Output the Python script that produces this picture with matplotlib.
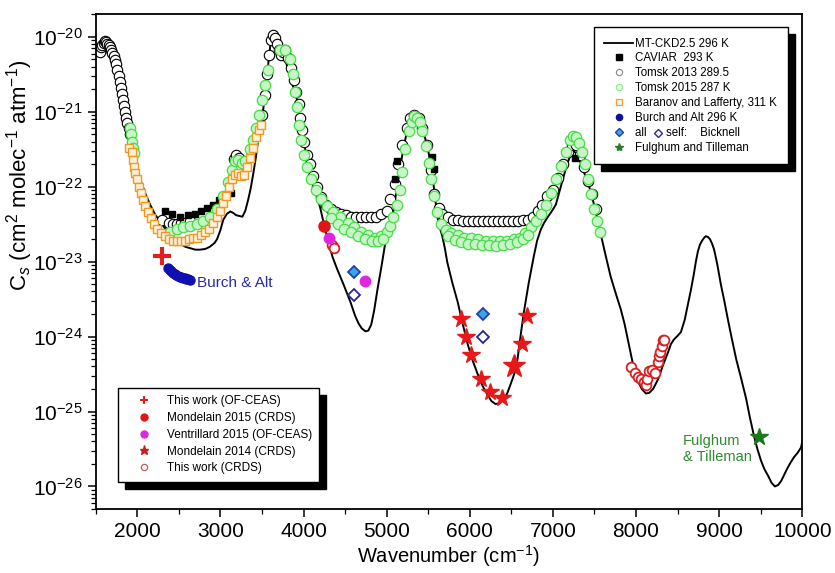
import numpy as np
import matplotlib
matplotlib.use('Agg')
import matplotlib.pyplot as plt
from matplotlib.lines import Line2D
from matplotlib.patches import Rectangle
from matplotlib.transforms import IdentityTransform
from matplotlib.ticker import LogLocator, NullFormatter, MultipleLocator

plt.rcParams['font.family'] = ['Liberation Sans', 'DejaVu Sans']
plt.rcParams['mathtext.fontset'] = 'custom'
plt.rcParams['mathtext.rm'] = 'Liberation Sans'
plt.rcParams['mathtext.it'] = 'Liberation Sans:italic'
plt.rcParams['mathtext.bf'] = 'Liberation Sans:bold'

# all series: (wavenumber cm-1, log10 of Cs)
mtckd_curve = [
    (1500, -20.22), (1550, -20.13), (1600, -20.10), (1650, -20.12), (1700, -20.22),
    (1750, -20.40), (1805, -20.70), (1860, -21.05), (1915, -21.37), (1970, -21.66),
    (2035, -21.90), (2100, -22.10), (2155, -22.24), (2220, -22.38), (2275, -22.46),
    (2335, -22.56), (2395, -22.64), (2455, -22.71), (2515, -22.76), (2575, -22.80),
    (2635, -22.82), (2700, -22.84), (2755, -22.84), (2820, -22.83), (2875, -22.80),
    (2930, -22.75), (2960, -22.70), (3000, -22.58), (3035, -22.44), (3080, -22.36),
    (3120, -22.33), (3155, -22.35), (3190, -22.38), (3265, -22.40), (3300, -22.32),
    (3335, -22.17), (3365, -22.02), (3395, -21.83), (3425, -21.62), (3455, -21.37),
    (3485, -21.16), (3515, -20.97), (3545, -20.70), (3575, -20.37), (3600, -20.12),
    (3615, -20.01), (3635, -19.97), (3660, -20.00), (3685, -20.10), (3730, -20.20),
    (3780, -20.30), (3830, -20.50), (3880, -20.68), (3925, -20.85), (3960, -21.10),
    (4000, -21.37), (4040, -21.62), (4080, -21.81), (4145, -22.06), (4205, -22.30),
    (4250, -22.52), (4300, -22.74), (4350, -22.94), (4405, -23.10), (4480, -23.30),
    (4565, -23.54), (4620, -23.72), (4660, -23.82), (4700, -23.89), (4745, -23.93),
    (4780, -23.92), (4815, -23.84), (4850, -23.65), (4890, -23.37), (4940, -23.05),
    (4985, -22.74), (5030, -22.55), (5070, -22.40), (5105, -22.15), (5140, -21.90),
    (5170, -21.70), (5200, -21.50), (5230, -21.34), (5260, -21.21), (5290, -21.12),
    (5325, -21.06), (5355, -21.05), (5385, -21.08), (5410, -21.15), (5430, -21.24),
    (5460, -21.34), (5490, -21.46), (5520, -21.64), (5550, -21.84), (5580, -22.12),
    (5610, -22.40), (5640, -22.55), (5670, -22.66), (5700, -22.82), (5730, -23.01),
    (5790, -23.28), (5855, -23.54), (5915, -23.83), (5975, -24.10), (6035, -24.32),
    (6095, -24.50), (6155, -24.66), (6215, -24.78), (6260, -24.86), (6310, -24.90),
    (6360, -24.89), (6405, -24.84), (6450, -24.76), (6490, -24.64), (6535, -24.50),
    (6575, -24.30), (6610, -24.00), (6650, -23.68), (6710, -23.28), (6770, -22.93),
    (6810, -22.72), (6855, -22.57), (6895, -22.48), (6935, -22.41), (6985, -22.33),
    (7035, -22.24), (7075, -22.08), (7120, -21.90), (7155, -21.76), (7190, -21.64),
    (7220, -21.56), (7250, -21.53), (7280, -21.55), (7310, -21.61), (7345, -21.72),
    (7385, -21.84), (7420, -21.95), (7455, -22.06), (7515, -22.33), (7575, -22.63),
    (7635, -22.92), (7695, -23.20), (7755, -23.42), (7815, -23.63), (7860, -23.82),
    (7900, -24.03), (7960, -24.35), (8025, -24.60), (8070, -24.70), (8120, -24.76),
    (8160, -24.75), (8205, -24.70), (8265, -24.57), (8325, -24.38), (8385, -24.21),
    (8420, -24.10), (8455, -24.04), (8500, -23.99), (8540, -23.94), (8585, -23.78),
    (8625, -23.57), (8660, -23.38), (8695, -23.17), (8720, -23.00), (8745, -22.86),
    (8770, -22.77), (8795, -22.72), (8820, -22.68), (8840, -22.66), (8865, -22.67),
    (8890, -22.70), (8915, -22.76), (8940, -22.84), (8980, -23.05), (9020, -23.30),
    (9065, -23.54), (9105, -23.77), (9155, -24.04), (9205, -24.30), (9265, -24.56),
    (9325, -24.83), (9370, -25.08), (9420, -25.33), (9460, -25.50), (9505, -25.66),
    (9545, -25.77), (9590, -25.86), (9630, -25.95), (9670, -26.00), (9710, -25.98),
    (9745, -25.93), (9780, -25.85), (9815, -25.77), (9860, -25.68), (9900, -25.61),
    (9945, -25.55), (9985, -25.48), (10000, -25.40),
]

tomsk2013 = [
    (1550, -20.20), (1565, -20.14), (1580, -20.11), (1595, -20.08), (1610, -20.06),
    (1625, -20.07), (1640, -20.09), (1655, -20.11), (1670, -20.14), (1685, -20.18),
    (1700, -20.22), (1715, -20.26), (1730, -20.31), (1745, -20.36), (1760, -20.44),
    (1775, -20.52), (1790, -20.60), (1805, -20.68), (1815, -20.76), (1825, -20.84),
    (1840, -20.92), (1855, -21.00), (1870, -21.08), (1880, -21.15), (1895, -21.22),
    (1910, -21.29),
    (2300, -22.45), (2380, -22.48), (2430, -22.50), (2480, -22.50), (2530, -22.49),
    (2580, -22.48), (2640, -22.46),
    (3160, -21.63), (3190, -21.57), (3225, -21.62),
    (3505, -21.04), (3540, -20.77), (3565, -20.50), (3590, -20.24), (3610, -20.04),
    (3635, -19.98), (3660, -20.01), (3685, -20.09), (3710, -20.17), (3735, -20.24),
    (3755, -20.20), (3780, -20.17), (3815, -20.28), (3855, -20.41), (3890, -20.57),
    (3915, -20.73), (3940, -20.90), (3960, -21.08), (3985, -21.24), (4010, -21.40),
    (4045, -21.57), (4080, -21.70), (4120, -21.86), (4165, -22.01), (4215, -22.14),
    (4275, -22.24), (4335, -22.30), (4395, -22.34), (4455, -22.37), (4515, -22.38),
    (4575, -22.40), (4635, -22.41), (4695, -22.41), (4755, -22.41), (4815, -22.41),
    (4875, -22.40), (4935, -22.37), (5000, -22.32), (5045, -22.17), (5095, -21.97),
    (5140, -21.70), (5190, -21.44), (5240, -21.21), (5285, -21.08), (5335, -21.04),
    (5385, -21.08), (5430, -21.21), (5480, -21.44), (5530, -21.77), (5575, -22.10),
    (5625, -22.28), (5670, -22.36), (5735, -22.41), (5795, -22.44), (5855, -22.45),
    (5915, -22.46), (5975, -22.46), (6035, -22.46), (6095, -22.46), (6155, -22.46),
    (6215, -22.46), (6275, -22.46), (6335, -22.46), (6395, -22.46), (6455, -22.46),
    (6515, -22.46), (6575, -22.46), (6635, -22.45), (6695, -22.44), (6755, -22.40),
    (6815, -22.33), (6875, -22.24), (6935, -22.13), (7000, -22.04), (7060, -21.88),
    (7120, -21.70), (7180, -21.53), (7225, -21.44), (7275, -21.44), (7325, -21.57),
    (7370, -21.74), (7420, -21.93), (7470, -22.10), (7515, -22.30),
]

tomsk2015 = [
    (1910, -21.21), (1925, -21.30), (1937, -21.40), (1950, -21.48), (1962, -21.55),
    (2395, -22.60), (2480, -22.57), (2550, -22.54), (2635, -22.53), (2720, -22.50),
    (2795, -22.46), (2875, -22.40), (2960, -22.30), (3035, -22.13), (3095, -21.94),
    (3140, -21.77), (3180, -21.66), (3215, -21.64), (3265, -21.68), (3300, -21.66),
    (3360, -21.50), (3395, -21.37), (3430, -21.21), (3470, -21.04), (3505, -20.84),
    (3540, -20.64), (3575, -20.44),
    (3720, -20.17), (3780, -20.17), (3840, -20.30), (3875, -20.50), (3900, -20.73),
    (3925, -20.94), (3950, -21.17), (3975, -21.37), (4010, -21.57), (4045, -21.74),
    (4095, -21.90), (4155, -22.05), (4215, -22.17), (4285, -22.26), (4360, -22.34),
    (4445, -22.41), (4530, -22.48), (4610, -22.54), (4695, -22.60), (4780, -22.64),
    (4865, -22.68), (4935, -22.66), (5000, -22.61), (5045, -22.52), (5080, -22.40),
    (5120, -22.24), (5155, -22.04), (5190, -21.80), (5225, -21.50), (5265, -21.26),
    (5300, -21.13), (5335, -21.06), (5370, -21.08), (5405, -21.14), (5430, -21.26),
    (5470, -21.46), (5505, -21.68), (5530, -21.90), (5565, -22.13), (5610, -22.34),
    (5650, -22.50), (5710, -22.58), (5780, -22.62), (5855, -22.65), (5935, -22.68),
    (6020, -22.69), (6105, -22.70), (6190, -22.72), (6275, -22.73), (6360, -22.73),
    (6445, -22.72), (6530, -22.70), (6600, -22.68), (6670, -22.62), (6735, -22.54),
    (6795, -22.46), (6855, -22.37), (6915, -22.24), (6975, -22.08), (7035, -21.90),
    (7095, -21.72), (7155, -21.53), (7200, -21.38), (7240, -21.32), (7275, -21.34),
    (7310, -21.41), (7345, -21.53), (7385, -21.70), (7420, -21.90), (7455, -22.10),
    (7490, -22.30), (7530, -22.46), (7565, -22.60),
    (4330, -22.42), (4410, -22.50), (4490, -22.56), (4570, -22.61), (4650, -22.66),
    (4735, -22.70), (4820, -22.72), (4900, -22.73), (4960, -22.70), (5740, -22.66),
    (5820, -22.71), (5900, -22.74), (5980, -22.76), (6060, -22.77), (6145, -22.78),
    (6230, -22.78), (6320, -22.79), (6400, -22.78), (6490, -22.76), (6570, -22.74),
    (6640, -22.70), (6700, -22.64),
]

caviar = [
    (2335, -22.33), (2420, -22.37), (2515, -22.40), (2610, -22.38), (2695, -22.36),
    (2770, -22.33), (2840, -22.29), (2915, -22.24), (2985, -22.18), (3060, -22.13),
    (3130, -22.08), (5095, -21.90), (5130, -21.66), (5550, -21.60), (5575, -21.76),
    (7265, -21.61),
]

baranov = [
    (1900, -21.48), (1937, -21.54), (1949, -21.64), (1961, -21.73), (1973, -21.82),
    (1998, -21.90), (2022, -22.00), (2046, -22.09), (2070, -22.18), (2094, -22.26),
    (2130, -22.34), (2166, -22.42), (2202, -22.50), (2239, -22.57), (2287, -22.62),
    (2335, -22.66), (2383, -22.70), (2431, -22.72), (2480, -22.73), (2528, -22.73),
    (2576, -22.72), (2624, -22.70), (2672, -22.69), (2720, -22.68), (2769, -22.65),
    (2817, -22.61), (2865, -22.56), (2913, -22.49), (2961, -22.41), (2998, -22.32),
    (3034, -22.22), (3070, -22.12), (3106, -22.01), (3142, -21.90), (3178, -21.84),
    (3214, -21.82), (3251, -21.86), (3287, -21.84), (3323, -21.74), (3359, -21.61),
    (3395, -21.48), (3431, -21.34), (3468, -21.24), (3492, -21.17),
]

burch_alt = [
    (2370, -23.08), (2390, -23.11), (2410, -23.13), (2430, -23.15), (2450, -23.16),
    (2470, -23.18), (2490, -23.19), (2510, -23.20), (2530, -23.21), (2550, -23.22),
    (2570, -23.22), (2590, -23.23), (2610, -23.23), (2630, -23.24),
]

bicknell_all = [(4612, -23.14), (6154, -23.70)]
bicknell_self = [(4612, -23.45), (6154, -24.01)]
fulghum = [(9480, -25.34)]

ofceas_this_work = [(2295, -22.93)]
mondelain2015 = [(4250, -22.53)]
ventrillard2015 = [(4312, -22.68), (4745, -23.26)]
mondelain2014 = [
    (5900, -23.77), (5960, -24.01), (6020, -24.25), (6130, -24.57), (6240, -24.74),
    (6385, -24.82), (6625, -24.10), (6685, -23.72),
]
mondelain2014_big = [(6530, -24.39)]
crds_this_work = [
    (4345, -22.78), (4370, -22.82),
    (7937, -24.40), (7985, -24.48), (8021, -24.54), (8057, -24.57), (8093, -24.61),
    (8118, -24.65), (8130, -24.56), (8154, -24.46), (8190, -24.44), (8226, -24.48),
    (8262, -24.34), (8274, -24.26), (8286, -24.20), (8310, -24.13), (8322, -24.05),
    (8335, -24.04),
]


def xy(series):
    arr = np.array(series, dtype=float)
    return arr[:, 0], 10.0 ** arr[:, 1]


fig = plt.figure(figsize=(8.35, 5.73), dpi=100)
ax = fig.add_axes([0.1146, 0.1117, 0.8462, 0.8633])
ax.set_yscale('log')

x, y = xy(mtckd_curve)
ax.plot(x, y, color='black', lw=1.4, zorder=1)

x, y = xy(tomsk2013)
ax.plot(x, y, ls='', marker='o', ms=7.5, mfc='white', mec='black', mew=0.8, zorder=2)

x, y = xy(caviar)
ax.plot(x, y, ls='', marker='s', ms=5, color='black', zorder=3)

x, y = xy(tomsk2015)
ax.plot(x, y, ls='', marker='o', ms=7.5, mfc='#c8f5c8', mec='#45dd45', mew=0.9, zorder=4)

x, y = xy(baranov)
ax.plot(x, y, ls='', marker='s', ms=6, mfc='#fff1dc', mec='#f09a20', mew=1.0, zorder=5)

x, y = xy(burch_alt)
ax.plot(x, y, ls='', marker='o', ms=6.5, color='#1010b0', zorder=6)

x, y = xy(ofceas_this_work)
ax.plot(x, y, ls='', marker='+', ms=13, mew=3, color='#e02020', zorder=6)

x, y = xy(mondelain2015)
ax.plot(x, y, ls='', marker='o', ms=8, color='#e01515', zorder=7)

x, y = xy(crds_this_work)
ax.plot(x, y, ls='', marker='o', ms=7, mfc='white', mec='#d82020', mew=1.3, zorder=6)

x, y = xy(ventrillard2015)
ax.plot(x, y, ls='', marker='o', ms=7.5, color='#e025e0', zorder=7)

x, y = xy(bicknell_all)
ax.plot(x, y, ls='', marker='D', ms=6.5, mfc='#39a6e6', mec='#1f3fb4', mew=1.3, zorder=7)

x, y = xy(bicknell_self)
ax.plot(x, y, ls='', marker='D', ms=6.5, mfc='white', mec='#25259a', mew=1.3, zorder=7)

x, y = xy(mondelain2014)
ax.plot(x, y, ls='', marker='*', ms=13, color='#e81818', zorder=7)

x, y = xy(mondelain2014_big)
ax.plot(x, y, ls='', marker='*', ms=17, color='#e81818', zorder=7)

x, y = xy(fulghum)
ax.plot(x, y, ls='', marker='*', ms=13, color='#1a7a1a', zorder=7)

ax.text(2720, 10 ** -23.28, 'Burch & Alt', color='#2a2aa0', fontsize=11, va='center', ha='left')
ax.text(8560, 10 ** -25.50, 'Fulghum\n& Tilleman', color='#2e8b2e', fontsize=10.5,
        va='center', ha='left', linespacing=1.25)

ax.set_xlim(1500, 10000)
ax.set_ylim(5e-27, 2e-20)
ax.set_xticks(np.arange(2000, 10001, 1000))
ax.xaxis.set_minor_locator(MultipleLocator(500))
yt = [10.0 ** e for e in range(-26, -19)]
ax.set_yticks(yt)
ax.set_yticklabels([r'$10^{%d}$' % e for e in range(-26, -19)])
ax.yaxis.set_minor_locator(LogLocator(base=10, subs=np.arange(2, 10), numticks=100))
ax.yaxis.set_minor_formatter(NullFormatter())
ax.tick_params(which='major', direction='out', length=6, width=1.1, labelsize=15, colors='black')
ax.tick_params(which='minor', direction='out', length=3.5, width=0.9)
for sp in ax.spines.values():
    sp.set_linewidth(1.3)

ax.set_xlabel(r'Wavenumber (cm$^{-1}$)', fontsize=14.5, labelpad=1.5)
ax.set_ylabel(r'C$_{s}$ (cm$^{2}$ molec$^{-1}$ atm$^{-1}$)', fontsize=16)
ax.yaxis.set_label_coords(-0.086, 0.675)

# legend 1, upper right
h1 = [
    Line2D([], [], color='black', lw=1.3),
    Line2D([], [], ls='', marker='s', ms=4, color='black'),
    Line2D([], [], ls='', marker='o', ms=4.5, mfc='white', mec='#888888', mew=0.8),
    Line2D([], [], ls='', marker='o', ms=4.5, mfc='#e6fbe6', mec='#8fe58f', mew=0.8),
    Line2D([], [], ls='', marker='s', ms=4, mfc='#fff1dc', mec='#e8a040', mew=0.9),
    Line2D([], [], ls='', marker='o', ms=4.5, color='#1010a0'),
    Line2D([], [], ls='', marker='D', ms=3.8, mfc='#39a6e6', mec='#1f3fb4', mew=1),
    Line2D([], [], ls='', marker='*', ms=6, color='#2a7a2a'),
]
l1 = ['MT-CKD2.5 296 K', 'CAVIAR  293 K', 'Tomsk 2013 289.5', 'Tomsk 2015 287 K',
      'Baranov and Lafferty, 311 K', 'Burch and Alt 296 K', 'all      self:    Bicknell',
      'Fulghum and Tilleman']
leg1 = ax.legend(h1, l1, loc='upper left', bbox_to_anchor=(0.705, 0.974), borderaxespad=0,
                 fontsize=8.3, frameon=True, fancybox=False, framealpha=1, edgecolor='black',
                 handlelength=2.5, handletextpad=0.2, borderpad=0.9, labelspacing=0.25)
leg1.get_frame().set_linewidth(1.0)
leg1.set_zorder(10)
ax.add_artist(leg1)

# legend 2, lower left
h2 = [
    Line2D([], [], ls='', marker='+', ms=6, mew=1.5, color='#e02020'),
    Line2D([], [], ls='', marker='o', ms=5, color='#e01515'),
    Line2D([], [], ls='', marker='o', ms=5, color='#e025e0'),
    Line2D([], [], ls='', marker='*', ms=6.5, color='#c82020'),
    Line2D([], [], ls='', marker='o', ms=4.5, mfc='white', mec='#c06060', mew=0.9),
]
l2 = ['This work (OF-CEAS)', 'Mondelain 2015 (CRDS)', 'Ventrillard 2015 (OF-CEAS)',
      'Mondelain 2014 (CRDS)', 'This work (CRDS)']
leg2 = ax.legend(h2, l2, loc='upper left', bbox_to_anchor=(0.0316, 0.2446), borderaxespad=0,
                 fontsize=8.5, frameon=True, fancybox=False, framealpha=1, edgecolor='black',
                 handlelength=3.2, handletextpad=0.35, borderpad=0.6, labelspacing=0.41)
leg2.get_frame().set_linewidth(1.0)
leg2.set_zorder(10)

# black drop shadows behind both legend boxes, and the open diamond inside legend 1
fig.canvas.draw()
for leg in (leg1, leg2):
    bb = leg.get_window_extent()
    shadow = Rectangle((bb.x0 + 7, bb.y0 - 7), bb.width, bb.height, transform=IdentityTransform(),
                       facecolor='black', edgecolor='black', zorder=9, clip_on=False)
    ax.add_artist(shadow)

tb = leg1.get_texts()[6].get_window_extent()
diamond = Line2D([tb.x0 + 23], [(tb.y0 + tb.y1) / 2], transform=IdentityTransform(), ls='',
                 marker='D', ms=3.8, mfc='white', mec='#2a2a9a', mew=1, zorder=11, clip_on=False)
ax.add_artist(diamond)

fig.savefig('out.png', dpi=100)
